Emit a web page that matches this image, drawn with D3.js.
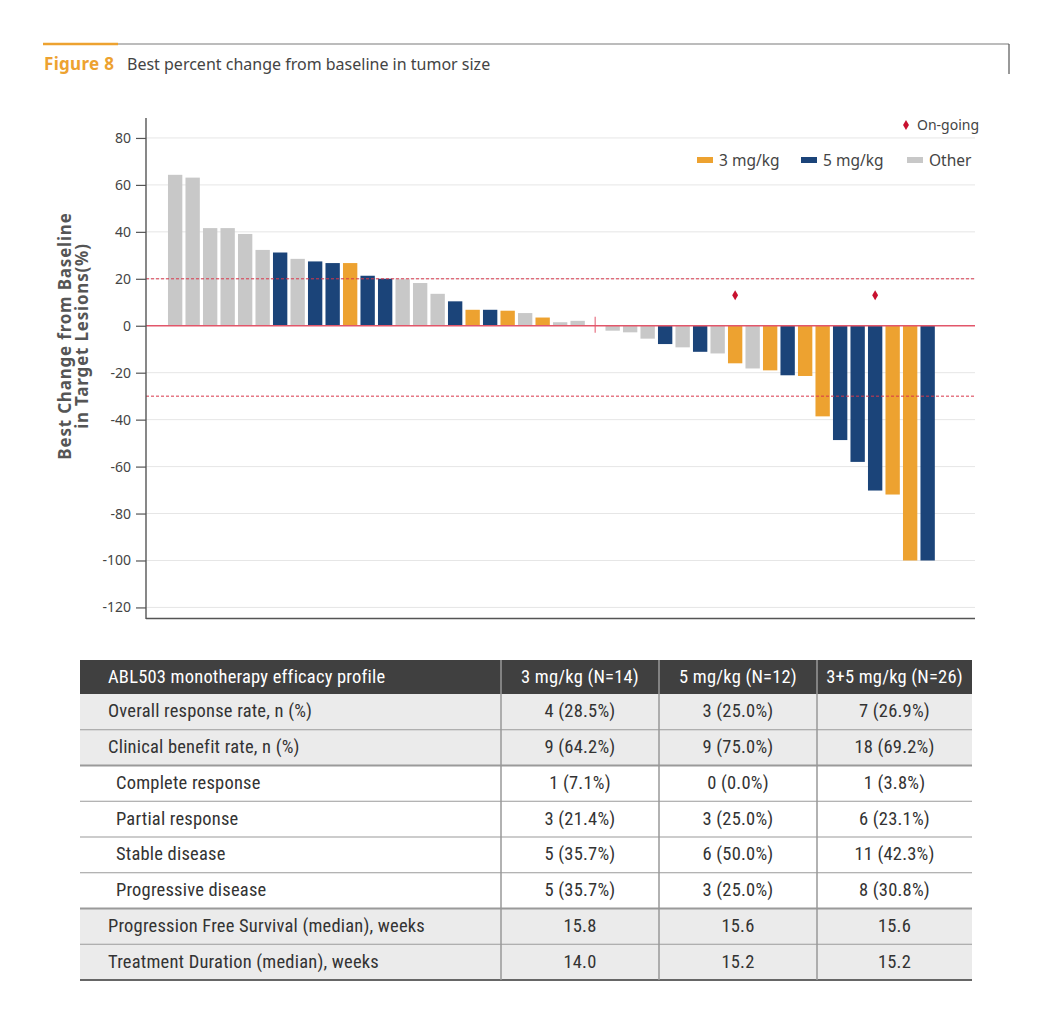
<!DOCTYPE html>
<html>
<head>
<meta charset="utf-8">
<script src="https://cdn.jsdelivr.net/npm/d3@7"></script>
<style>
  body { margin: 0; background: #fff; }
  svg { display: block; }
  .tick-label { font-family: "Noto Sans", sans-serif; font-size: 14px; fill: #444; }
  .tbl { font-family: "Liberation Sans Narrow", "Roboto Condensed", "Arial Narrow", sans-serif; font-size: 18.5px; letter-spacing: 0.2px; }
</style>
</head>
<body>
<svg id="chart" width="1037" height="1027"></svg>
<script>
// waterfall values (% change)
const leftValues = [64.3, 63.1, 41.6, 41.6, 39.1, 32.3, 31.2, 28.5, 27.4, 26.7, 26.7, 21.3,
  20.0, 19.8, 18.2, 13.6, 10.4, 6.8, 6.8, 6.4, 5.4, 3.5, 1.5, 2.1];
const leftGroups = ['O', 'O', 'O', 'O', 'O', 'O', 'B', 'O', 'B', 'B', 'A', 'B',
  'B', 'O', 'O', 'O', 'B', 'A', 'B', 'A', 'O', 'A', 'O', 'O'];
const rightValues = [-2.1, -2.8, -5.5, -7.8, -9.2, -11.1, -11.8, -16.0, -18.2, -19.0,
  -21.1, -21.4, -38.6, -48.7, -58.0, -70.2, -71.9, -100, -100];
const rightGroups = ['O', 'O', 'O', 'B', 'O', 'B', 'O', 'A', 'O', 'A',
  'B', 'A', 'A', 'B', 'B', 'B', 'A', 'A', 'B'];
const ongoingIdx = [7, 15]; // index into rightValues
const ongoingLevel = 13;

const yTicks = [80, 60, 40, 20, 0, -20, -40, -60, -80, -100, -120];
const refLines = [20, -30];

const groupKeys = ['A', 'B', 'O'];
const groupLabels = ['3 mg/kg', '5 mg/kg', 'Other'];
const groupColors = ['#eda230', '#1b4479', '#c8c8c8'];

const tableHeader = ['ABL503 monotherapy efficacy profile', '3 mg/kg (N=14)', '5 mg/kg (N=12)', '3+5 mg/kg (N=26)'];
const rowLabels = ['Overall response rate, n (%)', 'Clinical benefit rate, n (%)', 'Complete response',
  'Partial response', 'Stable disease', 'Progressive disease',
  'Progression Free Survival (median), weeks', 'Treatment Duration (median), weeks'];
const col3mg = ['4 (28.5%)', '9 (64.2%)', '1 (7.1%)', '3 (21.4%)', '5 (35.7%)', '5 (35.7%)', '15.8', '14.0'];
const col5mg = ['3 (25.0%)', '9 (75.0%)', '0 (0.0%)', '3 (25.0%)', '6 (50.0%)', '3 (25.0%)', '15.6', '15.2'];
const colAll = ['7 (26.9%)', '18 (69.2%)', '1 (3.8%)', '6 (23.1%)', '11 (42.3%)', '8 (30.8%)', '15.6', '15.2'];
const rowShaded = [true, true, false, false, false, false, true, true];
const rowIndent = [false, false, true, true, true, true, false, false];

const svg = d3.select('#chart');
const orange = '#eda230';

// ---- header ----
svg.append('line').attr('x1', 43).attr('x2', 1009).attr('y1', 44).attr('y2', 44)
  .attr('stroke', '#a6a6a6').attr('stroke-width', 1.5);
svg.append('line').attr('x1', 43).attr('x2', 118).attr('y1', 44).attr('y2', 44)
  .attr('stroke', orange).attr('stroke-width', 2.5);
svg.append('line').attr('x1', 1009).attr('x2', 1009).attr('y1', 44).attr('y2', 74)
  .attr('stroke', '#555').attr('stroke-width', 1.2);
svg.append('text').attr('x', 44).attr('y', 70).text('Figure 8')
  .attr('fill', orange).style('font-family', '"Noto Sans", sans-serif')
  .style('font-size', '17px').style('font-weight', 'bold').style('letter-spacing', '0.3px');
svg.append('text').attr('x', 127).attr('y', 70).text('Best percent change from baseline in tumor size')
  .attr('fill', '#444').style('font-family', '"Noto Sans", sans-serif').style('font-size', '16px');

// ---- chart ----
const plot = { left: 146, right: 975, top: 118, bottom: 618 };
const y = d3.scaleLinear().domain([-124.5, 88.5]).range([plot.bottom, plot.top]);
const nSlots = leftValues.length + 1 + rightValues.length;
const x = d3.scaleBand().domain(d3.range(nSlots)).range([166.4, 936.4]).paddingInner(0.18).paddingOuter(0.09);

const bars = [];
leftValues.forEach((v, i) => bars.push({ slot: i, v, g: leftGroups[i] }));
rightValues.forEach((v, i) => bars.push({ slot: leftValues.length + 1 + i, v, g: rightGroups[i], on: ongoingIdx.includes(i) }));
const color = d3.scaleOrdinal().domain(groupKeys).range(groupColors);

// grid
svg.append('g').selectAll('line').data(yTicks.filter((t) => t !== 0)).join('line')
  .attr('x1', plot.left).attr('x2', plot.right)
  .attr('y1', (d) => y(d)).attr('y2', (d) => y(d))
  .attr('stroke', '#e6e6e6').attr('stroke-width', 1);

// bars
svg.append('g').selectAll('rect').data(bars).join('rect')
  .attr('x', (d) => x(d.slot))
  .attr('width', x.bandwidth())
  .attr('y', (d) => y(Math.max(0, d.v)))
  .attr('height', (d) => Math.abs(y(d.v) - y(0)))
  .attr('fill', (d) => color(d.g));

// reference lines
svg.append('g').selectAll('line').data(refLines).join('line')
  .attr('x1', plot.left).attr('x2', plot.right)
  .attr('y1', (d) => y(d)).attr('y2', (d) => y(d))
  .attr('stroke', '#d9364a').attr('stroke-width', 1).attr('stroke-dasharray', '3,2');
svg.append('line').attr('x1', plot.left).attr('x2', plot.right)
  .attr('y1', y(0)).attr('y2', y(0)).attr('stroke', '#e2566a').attr('stroke-width', 1.3);

// split marker between the two groups
const gapSlot = leftValues.length;
svg.append('line')
  .attr('x1', x(gapSlot) + x.bandwidth() / 2).attr('x2', x(gapSlot) + x.bandwidth() / 2)
  .attr('y1', y(0) - 9).attr('y2', y(0) + 7)
  .attr('stroke', '#e2566a').attr('stroke-width', 1);

// on-going diamonds
const diamond = d3.symbol().type(d3.symbolDiamond).size(30);
svg.append('g').selectAll('path').data(bars.filter((d) => d.on)).join('path')
  .attr('d', diamond)
  .attr('transform', (d) => `translate(${x(d.slot) + x.bandwidth() / 2},${y(ongoingLevel)})`)
  .attr('fill', '#c8102e');

// axes
const yAxis = d3.axisLeft(y).tickValues(yTicks).tickSize(10).tickPadding(5).tickFormat((d) => String(d));
const ag = svg.append('g').attr('transform', `translate(${plot.left},0)`).call(yAxis);
ag.select('.domain').remove();
ag.selectAll('.tick line').attr('stroke', '#555').attr('stroke-width', 1.2);
ag.selectAll('.tick text').attr('class', 'tick-label').attr('fill', '#444');
svg.append('line').attr('x1', plot.left).attr('x2', plot.left).attr('y1', plot.top).attr('y2', plot.bottom + 1)
  .attr('stroke', '#555').attr('stroke-width', 1.4);
svg.append('line').attr('x1', plot.left).attr('x2', plot.right).attr('y1', plot.bottom + 0.5).attr('y2', plot.bottom + 0.5)
  .attr('stroke', '#555').attr('stroke-width', 1.4);

// y label
const yl = svg.append('text').attr('transform', 'translate(71,336) rotate(-90)')
  .attr('text-anchor', 'middle').attr('fill', '#555')
  .style('font-family', '"Noto Sans", sans-serif').style('font-size', '17px')
  .style('font-weight', 'bold').style('letter-spacing', '0.8px');
yl.append('tspan').attr('x', 0).attr('y', 0).text('Best Change from Baseline');
yl.append('tspan').attr('x', 0).attr('y', 17).text('in Target Lesions(%)');

// legend
svg.append('path').attr('d', diamond).attr('transform', 'translate(906,125)').attr('fill', '#c8102e');
svg.append('text').attr('x', 917).attr('y', 129.5).text('On-going')
  .attr('fill', '#444').style('font-family', '"Noto Sans", sans-serif').style('font-size', '14px');
const legX = [697, 801, 907];
const lg = svg.append('g').selectAll('g').data(groupKeys).join('g')
  .attr('transform', (d, i) => `translate(${legX[i]},157)`);
lg.append('rect').attr('width', 16).attr('height', 6).attr('fill', (d) => color(d));
lg.append('text').attr('x', 22).attr('y', 8.5).text((d, i) => groupLabels[i])
  .attr('fill', '#444').style('font-family', '"Noto Sans", sans-serif').style('font-size', '15.5px');

// ---- table ----
const T = { left: 80, right: 972, top: 660, headH: 34, rowH: 35.75 };
const colEdges = [80, 501, 659, 817, 972];
const colCenters = [1, 2, 3].map((i) => (colEdges[i] + colEdges[i + 1]) / 2);
const tbl = svg.append('g').attr('class', 'tbl');

tbl.append('rect').attr('x', T.left).attr('y', T.top).attr('width', T.right - T.left).attr('height', T.headH).attr('fill', '#404040');
const rowTop = (i) => T.top + T.headH + i * T.rowH;
tbl.selectAll('rect.row').data(rowLabels).join('rect').attr('class', 'row')
  .attr('x', T.left).attr('width', T.right - T.left)
  .attr('y', (d, i) => rowTop(i)).attr('height', T.rowH)
  .attr('fill', (d, i) => (rowShaded[i] ? '#ebebeb' : '#fff'));

// horizontal rules
tbl.selectAll('line.h').data(d3.range(1, rowLabels.length + 1)).join('line').attr('class', 'h')
  .attr('x1', T.left).attr('x2', T.right)
  .attr('y1', (i) => rowTop(i)).attr('y2', (i) => rowTop(i))
  .attr('stroke', (i) => (i === rowLabels.length ? '#666' : '#9a9a9a'))
  .attr('stroke-width', (i) => (i === rowLabels.length || i === 2 || i === 6 ? 2 : 1.2));

// vertical rules
tbl.selectAll('line.v').data(colEdges.slice(1, 4)).join('line').attr('class', 'v')
  .attr('x1', (d) => d).attr('x2', (d) => d)
  .attr('y1', T.top).attr('y2', rowTop(rowLabels.length))
  .attr('stroke', '#999').attr('stroke-width', 1.5);

// header texts
tbl.append('text').attr('x', 108).attr('y', T.top + T.headH / 2 + 6).text(tableHeader[0]).attr('fill', '#fff');
tbl.selectAll('text.hc').data(tableHeader.slice(1)).join('text').attr('class', 'hc')
  .attr('x', (d, i) => colCenters[i]).attr('y', T.top + T.headH / 2 + 6)
  .attr('text-anchor', 'middle').attr('fill', '#fff').text((d) => d);

// row texts
tbl.selectAll('text.rl').data(rowLabels).join('text').attr('class', 'rl')
  .attr('x', (d, i) => (rowIndent[i] ? 116 : 108))
  .attr('y', (d, i) => rowTop(i) + T.rowH / 2 + 5.5)
  .attr('fill', '#333').text((d) => d);
[col3mg, col5mg, colAll].forEach((col, c) => {
  tbl.selectAll(`text.c${c}`).data(col).join('text').attr('class', `c${c}`)
    .attr('x', colCenters[c]).attr('y', (d, i) => rowTop(i) + T.rowH / 2 + 5.5)
    .attr('text-anchor', 'middle').attr('fill', '#333').text((d) => d);
});
</script>
</body>
</html>
